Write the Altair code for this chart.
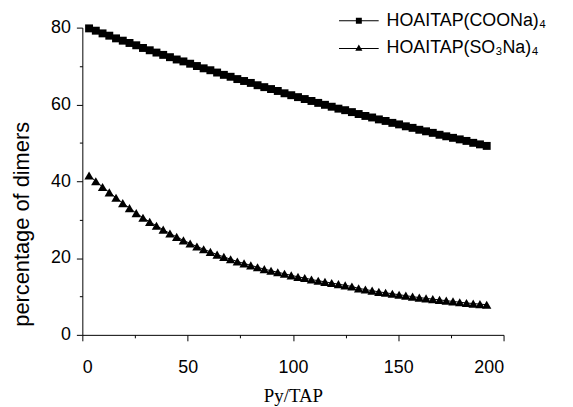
import altair as alt
import pandas as pd

ratio = [3.2, 6.4, 9.6, 12.8, 16.0, 19.2, 22.4, 25.6, 28.8, 32.0,
         35.2, 38.4, 41.6, 44.8, 48.0, 51.2, 54.4, 57.6, 60.8, 64.0,
         67.2, 70.4, 73.6, 76.8, 80.0, 83.2, 86.4, 89.6, 92.8, 96.0,
         99.2, 102.4, 105.6, 108.8, 112.0, 115.2, 118.4, 121.6, 124.8, 128.0,
         131.2, 134.4, 137.6, 140.8, 144.0, 147.2, 150.4, 153.6, 156.8, 160.0,
         163.2, 166.4, 169.6, 172.8, 176.0, 179.2, 182.4, 185.6, 188.8, 192.0]

coona = [79.8, 79.2, 78.5, 77.9, 77.2, 76.6, 76.0, 75.4, 74.7, 74.1,
         73.5, 72.9, 72.3, 71.7, 71.2, 70.6, 70.0, 69.4, 68.9, 68.3,
         67.7, 67.2, 66.6, 66.1, 65.6, 65.0, 64.5, 64.0, 63.5, 62.9,
         62.4, 61.9, 61.4, 60.9, 60.4, 59.9, 59.4, 58.9, 58.5, 58.0,
         57.5, 57.0, 56.6, 56.1, 55.7, 55.2, 54.8, 54.3, 53.9, 53.4,
         53.0, 52.6, 52.1, 51.7, 51.3, 50.9, 50.5, 50.0, 49.6, 49.2]

so3na = [41.5, 40.0, 38.5, 37.1, 35.7, 34.3, 33.0, 31.7, 30.5, 29.4,
         28.4, 27.4, 26.4, 25.5, 24.6, 23.8, 23.0, 22.3, 21.6, 20.9,
         20.3, 19.7, 19.1, 18.6, 18.1, 17.6, 17.1, 16.7, 16.3, 15.9,
         15.5, 15.1, 14.8, 14.4, 14.1, 13.8, 13.5, 13.2, 12.9, 12.6,
         12.1, 11.8, 11.5, 11.2, 10.95, 10.7, 10.45, 10.2, 9.95, 9.7,
         9.5, 9.3, 9.1, 8.9, 8.7, 8.5, 8.3, 8.15, 8.0, 7.85]

series_names = ["HOAITAP(COONa)\u2084", "HOAITAP(SO\u2083Na)\u2084"]

df = pd.concat([
    pd.DataFrame({"ratio": ratio, "pct": coona, "series": series_names[0]}),
    pd.DataFrame({"ratio": ratio, "pct": so3na, "series": series_names[1]}),
])

x_enc = alt.X("ratio:Q",
              scale=alt.Scale(domain=[0, 200], nice=False),
              axis=alt.Axis(values=[0, 25, 50, 75, 100, 125, 150, 175, 200],
                            labelExpr="datum.value % 50 == 0 ? datum.label : ''",
                            tickSize={"condition": {"test": "datum.value % 50 == 0", "value": 6}, "value": 3},
                            grid=False, title="Py/TAP",
                            titleFont="Liberation Serif", titleFontSize=19,
                            titleFontWeight="normal", titleColor="black",
                            titleBaseline="top", titleY=52,
                            labelFont="Liberation Sans", labelFontSize=18,
                            labelColor="black", labelPadding=18,
                            domainColor="black", tickColor="black"))
y_enc = alt.Y("pct:Q",
              scale=alt.Scale(domain=[0, 80], nice=False),
              axis=alt.Axis(values=[0, 10, 20, 30, 40, 50, 60, 70, 80],
                            labelExpr="datum.value % 20 == 0 ? datum.label : ''",
                            tickSize={"condition": {"test": "datum.value % 20 == 0", "value": 6}, "value": 3},
                            grid=False, title="percentage of dimers",
                            titleFont="Liberation Sans", titleFontSize=22,
                            titleFontWeight="normal", titleColor="black",
                            titleX=-49, titleY=198,
                            labelFont="Liberation Sans", labelFontSize=18,
                            labelColor="black", labelPadding=6,
                            domainColor="black", tickColor="black"))

base = alt.Chart(df)

lines = base.mark_line(color="black", strokeWidth=1).encode(
    x=x_enc, y=y_enc, detail="series:N")

squares = base.transform_filter(
    alt.datum.series == series_names[0]
).mark_point(shape="square", filled=True, color="black", size=64, opacity=1).encode(
    x=x_enc, y=y_enc)

triangles = base.transform_filter(
    alt.datum.series == series_names[1]
).mark_point(shape="triangle-up", filled=True, color="black", size=90, opacity=1).encode(
    x=x_enc, y=y_enc)

legend_paths = [
    "M-1,-0.025H1V0.025H-1ZM-0.15,-0.15H0.15V0.15H-0.15Z",
    "M-1,-0.025H1V0.025H-1ZM0,-0.2L0.18,0.12H-0.18Z",
]

legend_layer = base.transform_filter("datum.ratio < 0").mark_point(
    filled=True, color="black", opacity=1
).encode(
    x=x_enc, y=y_enc,
    shape=alt.Shape("series:N",
                    scale=alt.Scale(domain=series_names, range=legend_paths),
                    legend=alt.Legend(title=None, orient="none",
                                      legendX=258, legendY=-21,
                                      symbolSize=1600, clipHeight=28,
                                      rowPadding=0, padding=0,
                                      symbolFillColor="black",
                                      symbolOpacity=1,
                                      labelFont="Liberation Sans",
                                      labelFontSize=18, labelColor="black",
                                      labelOffset=7, labelLimit=300)))

chart = alt.layer(lines, squares, triangles, legend_layer).properties(
    width=425, height=310,
    autosize=alt.AutoSizeParams(type="none"),
    padding={"left": 75, "top": 18, "right": 62, "bottom": 71},
).configure_view(stroke=None).configure_axis(domainWidth=1, tickWidth=1)

chart.save("out.html", embed_options={"renderer": "svg", "actions": False})
